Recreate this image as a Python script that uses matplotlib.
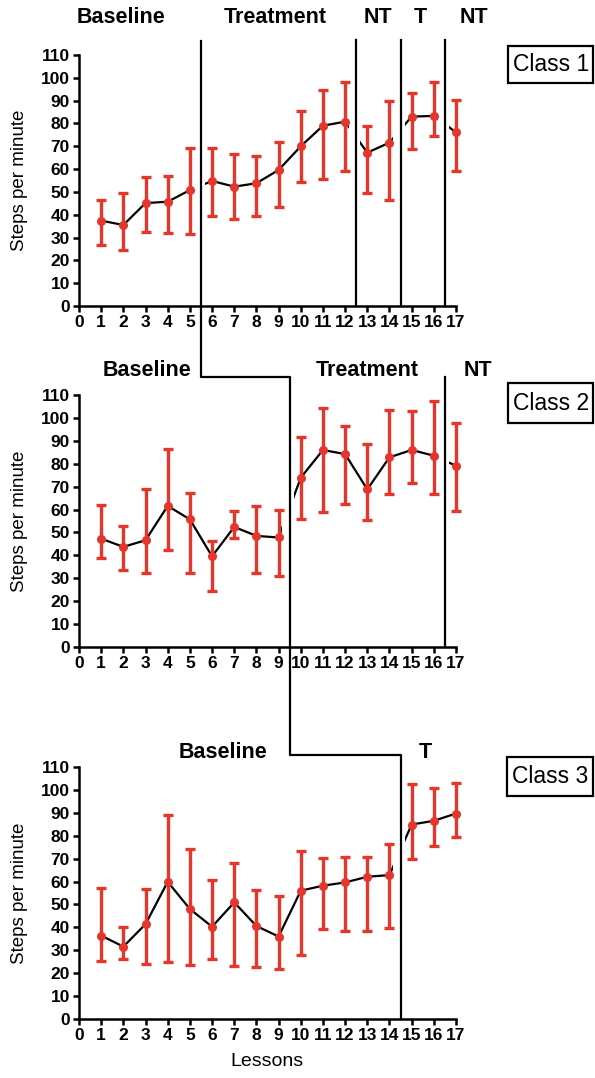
import matplotlib
matplotlib.use("Agg")
import matplotlib.pyplot as plt
from matplotlib.lines import Line2D
from matplotlib.patches import Rectangle
import numpy as np

plt.rcParams['font.family'] = ['Liberation Sans', 'DejaVu Sans']

lessons = np.arange(1, 18)

# Class 1
mean1 = [37.4, 35.5, 45.1, 45.7, 50.8, 54.8, 52.3, 53.8, 59.6, 70.0, 79.0, 80.8, 67.2, 71.6, 83.0, 83.3, 76.1]
up1 = [46.6, 49.7, 56.7, 57.1, 69.1, 69.2, 66.5, 65.9, 72.0, 85.5, 94.7, 98.0, 78.9, 89.8, 93.2, 98.3, 90.3]
lo1 = [26.7, 24.5, 32.6, 31.8, 31.4, 39.6, 38.3, 39.4, 43.5, 54.5, 55.7, 59.2, 49.7, 46.5, 68.7, 74.7, 59.3]
# Class 2
mean2 = [47.3, 43.7, 46.6, 61.6, 55.7, 39.6, 52.4, 48.5, 47.8, 73.9, 86.0, 84.2, 68.8, 82.8, 86.0, 83.5, 79.1]
up2 = [62.2, 52.9, 68.9, 86.4, 67.3, 46.3, 59.3, 61.6, 59.7, 91.5, 104.2, 96.6, 88.4, 103.4, 103.0, 107.5, 97.6]
lo2 = [38.9, 33.7, 32.3, 42.2, 32.3, 24.3, 47.6, 32.1, 30.9, 55.8, 59.0, 62.6, 55.4, 66.7, 71.4, 66.6, 59.3]
# Class 3
mean3 = [36.4, 31.6, 41.4, 59.9, 48.0, 40.3, 50.9, 40.6, 36.0, 56.0, 58.2, 59.6, 62.1, 62.8, 84.9, 86.5, 89.7]
up3 = [57.3, 40.3, 56.6, 89.0, 74.4, 60.7, 67.9, 56.3, 53.7, 73.3, 70.4, 70.5, 70.5, 76.2, 102.7, 101.0, 103.0]
lo3 = [25.1, 26.1, 23.9, 24.8, 23.7, 26.4, 23.2, 22.6, 21.8, 28.0, 39.3, 38.6, 38.6, 39.6, 69.8, 75.5, 79.5]

class_names = ['Class 1', 'Class 2', 'Class 3']
phase_bounds = [[5.5, 12.5, 14.5, 16.5], [9.5, 16.5], [14.5]]
phase_labels = [['Baseline', 'Treatment', 'NT', 'T', 'NT'],
                ['Baseline', 'Treatment', 'NT'],
                ['Baseline', 'T']]
phase_label_x = [[1.9, 8.87, 13.5, 15.4, 17.8], [3.05, 13.0, 18.0], [6.5, 15.6]]
phase_label_y = [126.6, 120.6, 116.2]
xticks = list(range(0, 18))
yticks = list(range(0, 111, 10))

W, H = 595, 1078
fig = plt.figure(figsize=(W / 100, H / 100), dpi=100)

red = '#e5362c'
panels_px = [(55, 306), (395, 647), (767, 1019)]  # top, bottom pixel of each axes
left_px, right_px = 79, 456
axes = []
data = [(mean1, up1, lo1), (mean2, up2, lo2), (mean3, up3, lo3)]
for i, (top, bot) in enumerate(panels_px):
    ax = fig.add_axes([left_px / W, 1 - bot / H, (right_px - left_px) / W, (bot - top) / H])
    axes.append(ax)
    m, u, l = [np.array(a) for a in data[i]]
    ax.plot(lessons, m, color='black', lw=1.6, zorder=2, clip_on=False)
    for b in phase_bounds[i]:
        ax.axvspan(b - 0.33, b + 0.18, ymin=0.01, ymax=1, color='white', lw=0, zorder=2.2)
    cont = ax.errorbar(lessons, m, yerr=[m - l, u - m], fmt='o', color=red, ms=5.5,
                       elinewidth=2.4, capsize=3.8, capthick=2.4, zorder=3)
    for art in cont.get_children():
        art.set_clip_on(False)
    ax.set_xlim(0, 17)
    ax.set_ylim(0, 110)
    ax.set_xticks(xticks)
    ax.set_yticks(yticks)
    ax.set_xticklabels([str(t) for t in xticks], fontsize=12.5, fontweight='bold')
    ax.set_yticklabels([str(t) for t in yticks], fontsize=12.5, fontweight='bold')
    for s in ['top', 'right']:
        ax.spines[s].set_visible(False)
    for s in ['left', 'bottom']:
        ax.spines[s].set_linewidth(1.8)
    ax.tick_params(width=1.8, length=4.5, pad=2)
    ax.patch.set_alpha(0)
    for lab, lx in zip(phase_labels[i], phase_label_x[i]):
        ax.text(lx, phase_label_y[i], lab, ha='center', va='center', fontsize=15.5,
                fontweight='bold', clip_on=False)
    fig.text(20 / W, 1 - (top + bot) / 2 / H, 'Steps per minute', rotation=90,
             ha='center', va='center', fontsize=13.5)

fig.text(267 / W, 1 - 1062 / H, 'Lessons', ha='center', va='center', fontsize=14)

inv = fig.transFigure.inverted()


def fc(ax, x, y):
    return inv.transform(ax.transData.transform((x, y)))


def fline(points, lw=1.6):
    xs = [p[0] for p in points]
    ys = [p[1] for p in points]
    fig.add_artist(Line2D(xs, ys, transform=fig.transFigure, color='black', lw=lw, zorder=5))


a1, a2, a3 = axes
y12 = (647 - 377) / 252 * 110
y23 = (1019 - 755) / 252 * 110
# staircase
top1 = fc(a1, 5.5, 116.0)
h12 = fc(a2, 9.5, y12)
h23 = fc(a3, 14.5, y23)
bot3 = fc(a3, 14.5, 0)
stair = [top1, (top1[0], h12[1]), h12, (h12[0], h23[1]), h23, bot3]
fline(stair)
for b in [12.5, 14.5, 16.5]:
    fline([fc(a1, b, 116.5), fc(a1, b, 0)])
fline([fc(a2, 16.5, y12), fc(a2, 16.5, 0)])

# class boxes
boxes = [(508, 46, 83), (508, 383, 423), (507, 757, 796)]
for name, (bx, bt, bb) in zip(class_names, boxes):
    fig.add_artist(Rectangle((bx / W, 1 - bb / H), (593 - bx) / W, (bb - bt) / H,
                             transform=fig.transFigure, fill=False, lw=1.6,
                             edgecolor='black'))
    fig.text((bx + 5) / W, 1 - (bt + bb) / 2 / H, name, ha='left', va='center', fontsize=16.5)

fig.savefig('out.png', dpi=100)
